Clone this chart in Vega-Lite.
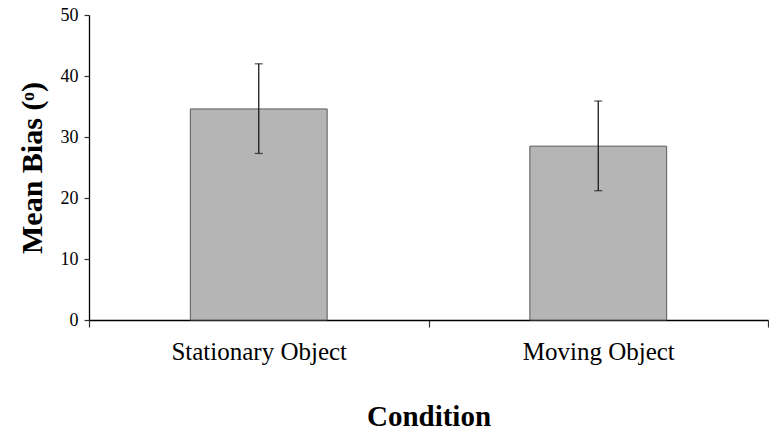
{
  "$schema": "https://vega.github.io/schema/vega-lite/v6.json",
  "width": 679,
  "height": 305,
  "autosize": {"type": "none"},
  "padding": {"left": 89, "top": 15, "right": 1, "bottom": 112},
  "background": "white",
  "config": {
    "view": {"stroke": null},
    "font": "Liberation Serif",
    "axis": {
      "grid": false,
      "domainColor": "#000000",
      "domainWidth": 1.3,
      "tickColor": "#333333",
      "tickWidth": 1.2,
      "labelColor": "#000000",
      "titleColor": "#000000",
      "labelFont": "Liberation Serif",
      "titleFont": "Liberation Serif",
      "titleFontWeight": "bold"
    },
    "axisY": {
      "labelFont": "Liberation Serif",
      "titleFont": "Liberation Serif",
      "labelFontSize": 18,
      "labelPadding": 6,
      "tickSize": 5,
      "titleFontSize": 30,
      "titlePadding": 13
    },
    "axisX": {
      "labelFont": "Liberation Serif",
      "titleFont": "Liberation Serif",
      "labelFontSize": 25,
      "labelPadding": 12,
      "tickSize": 7,
      "titleFontSize": 29,
      "titlePadding": 38
    }
  },
  "data": {
    "values": [
      {"condition": "Stationary Object", "mean": 34.6, "lo": 27.3, "hi": 42.0},
      {"condition": "Moving Object", "mean": 28.5, "lo": 21.2, "hi": 35.9}
    ]
  },
  "encoding": {
    "x": {
      "field": "condition",
      "type": "nominal",
      "sort": null,
      "scale": {"paddingInner": 0, "paddingOuter": 0},
      "axis": {
        "title": "Condition",
        "labelAngle": 0,
        "tickBand": "extent",
        "ticks": true
      }
    }
  },
  "layer": [
    {
      "mark": {"type": "bar", "color": "#b4b5b4", "stroke": "#5a5a5a", "strokeWidth": 1, "width": {"band": 0.403}},
      "encoding": {
        "y": {
          "field": "mean",
          "type": "quantitative",
          "scale": {"domain": [0, 50], "nice": false},
          "axis": {
            "title": "Mean Bias (ᵒ)",
            "values": [0, 10, 20, 30, 40, 50]
          }
        }
      }
    },
    {
      "mark": {"type": "rule", "color": "#1a1a1a", "strokeWidth": 1.3},
      "encoding": {
        "y": {"field": "lo", "type": "quantitative"},
        "y2": {"field": "hi"}
      }
    },
    {
      "mark": {"type": "tick", "color": "#1a1a1a", "size": 8, "thickness": 1.3},
      "encoding": {"y": {"field": "lo", "type": "quantitative"}}
    },
    {
      "mark": {"type": "tick", "color": "#1a1a1a", "size": 8, "thickness": 1.3},
      "encoding": {"y": {"field": "hi", "type": "quantitative"}}
    }
  ]
}
